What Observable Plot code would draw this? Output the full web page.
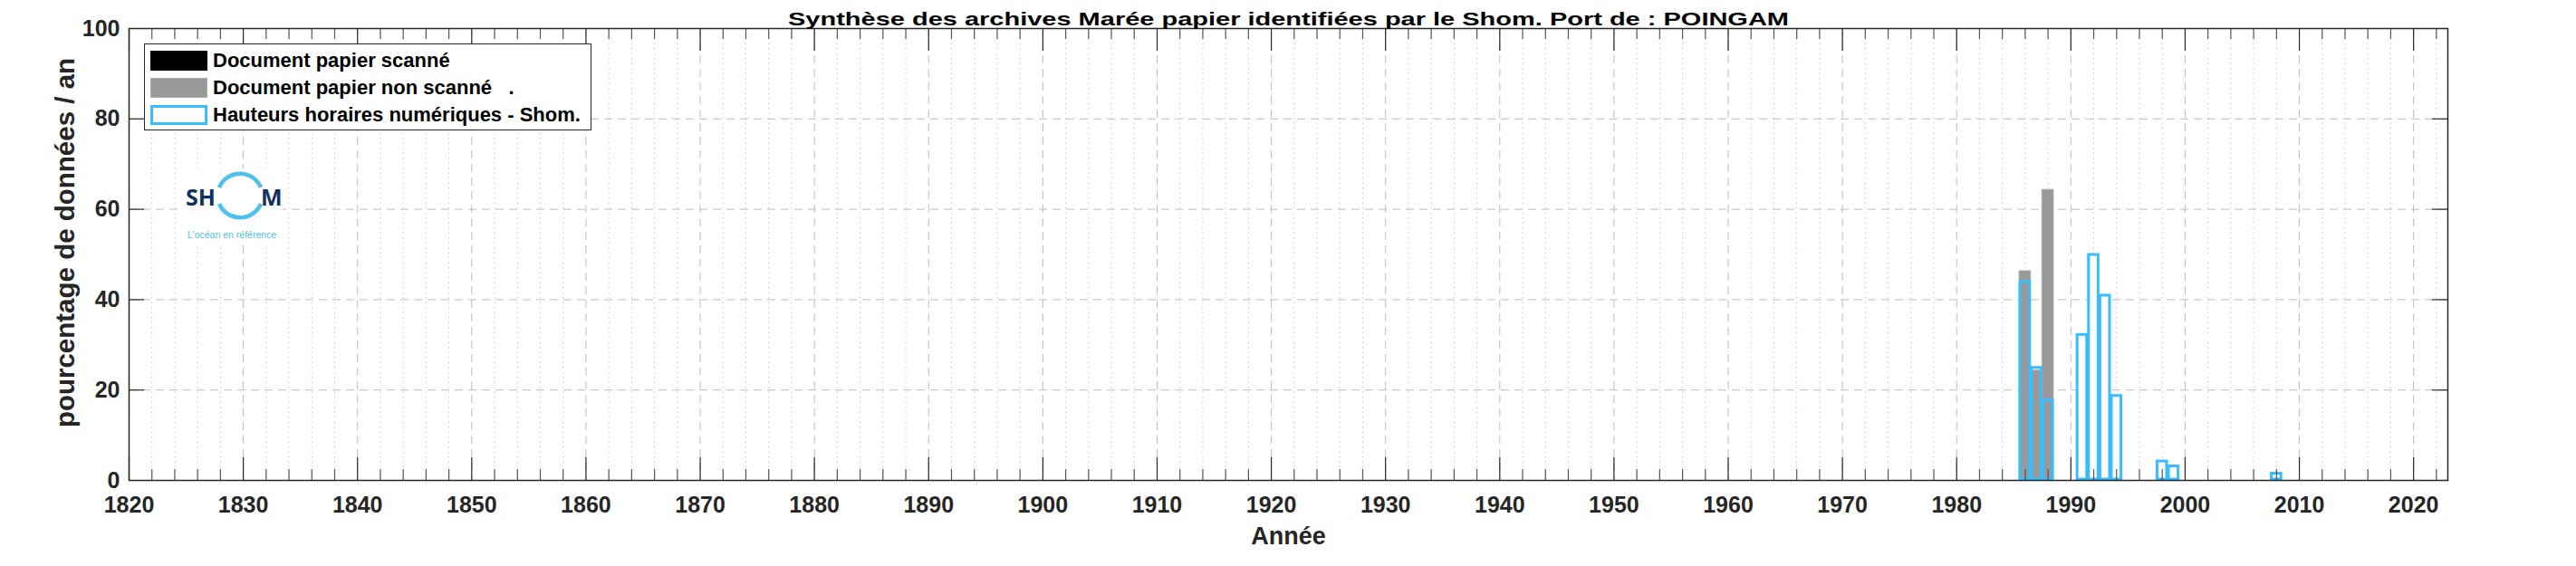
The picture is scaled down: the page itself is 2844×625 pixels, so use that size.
<!DOCTYPE html>
<html>
<head>
<meta charset="utf-8">
<script src="https://cdn.jsdelivr.net/npm/d3@7"></script>
<script src="https://cdn.jsdelivr.net/npm/@observablehq/plot@0.6"></script>
<style>
  html, body { margin: 0; padding: 0; background: #fff; }
  #wrap { position: relative; width: 2844px; height: 625px; font-family: "Liberation Sans", Arial, sans-serif; }
  #legend { position: absolute; left: 159px; top: 48px; width: 492px; height: 94px; border: 1.5px solid #262626; background: #fff; box-sizing: content-box; }
  .row { position: absolute; left: 0; height: 30px; display: flex; align-items: center; font-weight: bold; font-size: 22px; color: #000; white-space: pre; }
  .sw { width: 63px; height: 22px; margin-left: 6px; margin-right: 6px; box-sizing: border-box; }
  #logo { position: absolute; left: 0; top: 0; }
</style>
</head>
<body>
<div id="wrap"></div>
<script>
// ---- data ----
const title = "Synthèse des archives Marée papier identifiées par le Shom. Port de : POINGAM";
const xLabel = "Année";
const yLabel = "pourcentage de données / an";
const legendLabels = ["Document papier scanné", "Document papier non scanné   .", "Hauteurs horaires numériques - Shom."];

const scannedYears = [];
const scannedValues = [];
const unscannedYears = [1986, 1987, 1988];
const unscannedValues = [46.3, 24.3, 64.3];
const numericYears = [1986, 1987, 1988, 1991, 1992, 1993, 1994, 1998, 1999, 2008];
const numericValues = [44.1, 25.1, 17.9, 32.4, 50.1, 41.1, 18.9, 4.4, 3.3, 1.7];

const xTicks = [1820, 1830, 1840, 1850, 1860, 1870, 1880, 1890, 1900, 1910, 1920, 1930, 1940, 1950, 1960, 1970, 1980, 1990, 2000, 2010, 2020];
const xMinorTicks = d3.range(1822, 2023, 2).filter(v => v % 10 !== 0);
const yTicks = [0, 20, 40, 60, 80, 100];
const yGrid = [20, 40, 60, 80];

const scanned = scannedYears.map((y, i) => ({year: y, value: scannedValues[i]}));
const unscanned = unscannedYears.map((y, i) => ({year: y, value: unscannedValues[i]}));
const numeric = numericYears.map((y, i) => ({year: y, value: numericValues[i]}));

const W = 2844, H = 625;
const mL = 142, mR = 142, mT = 31, mB = 95;
const innerW = W - mL - mR, innerH = H - mT - mB;
const ink = "#262626";
const blue = "#38BDFF";
const gray = "#999999";

const chart = Plot.plot({
  width: W, height: H,
  marginLeft: mL, marginRight: mR, marginTop: mT, marginBottom: mB,
  style: {fontFamily: "'Liberation Sans', Arial, sans-serif", fontWeight: "bold", fontSize: "25px", color: ink, background: "#fff"},
  x: {domain: [1820, 2023]},
  y: {domain: [0, 100]},
  marks: [
    // grids
    Plot.ruleX(xMinorTicks, {stroke: "#c8c8c8", strokeDasharray: "1.5,4"}),
    Plot.ruleX(xTicks, {stroke: "#bdbdbd", strokeDasharray: "9,6"}),
    Plot.ruleY(yGrid, {stroke: "#bdbdbd", strokeDasharray: "9,6"}),
    // bars
    Plot.rectY(numeric, {x1: d => d.year - 0.5, x2: d => d.year + 0.5, y: "value", fill: "#fff", inset: 1}),
    Plot.rectY(scanned, {x1: d => d.year - 0.5, x2: d => d.year + 0.5, y: "value", fill: "#000"}),
    Plot.rectY(unscanned, {x1: d => d.year - 0.5, x2: d => d.year + 0.5, y: "value", fill: gray, stroke: "#ababab", strokeWidth: 1}),
    Plot.rectY(numeric, {x1: d => d.year - 0.5, x2: d => d.year + 0.5, y: "value", fill: "none", stroke: blue, strokeWidth: 3, inset: 1}),
    // ticks (inward)
    Plot.ruleX(xTicks, {stroke: ink, strokeWidth: 1.2, insetTop: innerH - 25}),
    Plot.ruleX(xMinorTicks, {stroke: "#555", strokeWidth: 1.2, insetTop: innerH - 12}),
    Plot.ruleX(xTicks, {stroke: ink, strokeWidth: 1.2, insetBottom: innerH - 25}),
    Plot.ruleX(xMinorTicks, {stroke: "#555", strokeWidth: 1.2, insetBottom: innerH - 12}),
    Plot.ruleY(yGrid, {stroke: ink, strokeWidth: 1.2, insetRight: innerW - 17}),
    Plot.ruleY(yGrid, {stroke: ink, strokeWidth: 1.2, insetLeft: innerW - 17}),
    Plot.frame({stroke: ink, strokeWidth: 1.5}),
    // axes
    Plot.axisX(xTicks, {tickSize: 0, tickPadding: 18, tickFormat: d => `${d}`, fill: ink, label: null}),
    Plot.axisY(yTicks, {tickSize: 0, tickPadding: 10, tickFormat: d => `${d}`, fill: ink, label: null}),
    // labels
    Plot.text([xLabel], {frameAnchor: "bottom", dy: 70, fill: ink, fontSize: 27, fontWeight: "bold"}),
    Plot.text([yLabel], {frameAnchor: "left", dx: -70, dy: -13, rotate: -90, textAnchor: "middle", fill: ink, fontSize: 29.5, fontWeight: "bold"}),
    Plot.text([title], {frameAnchor: "top", dy: -18, fill: "#000", fontSize: 21, fontWeight: "bold"})
  ]
});

// stretch the title to the reference's width
d3.select(chart).selectAll("text")
  .filter(function () { return this.textContent === title; })
  .attr("textLength", 1105)
  .attr("lengthAdjust", "spacingAndGlyphs");

const wrap = document.getElementById("wrap");
wrap.appendChild(chart);

// SHOM logo (decoration)
const logo = document.createElementNS("http://www.w3.org/2000/svg", "svg");
logo.setAttribute("id", "logo");
logo.setAttribute("width", W);
logo.setAttribute("height", H);
logo.innerHTML = `
  <rect x="200" y="186" width="112" height="84" fill="#fff"/>
  <path d="M 242 207 A 25 25 0 0 1 288 207" fill="none" stroke="#4fc0ec" stroke-width="4.5"/>
  <path d="M 242 225 A 25 25 0 0 0 288 225" fill="none" stroke="#4fc0ec" stroke-width="4.5"/>
  <text x="205" y="227" font-family="'Open Sans', 'Liberation Sans', sans-serif" font-weight="bold" font-size="25" fill="#12305f">SH</text>
  <text x="288" y="227" font-family="'Open Sans', 'Liberation Sans', sans-serif" font-weight="bold" font-size="25" fill="#12305f">M</text>
  <text x="256" y="263" text-anchor="middle" font-family="'Liberation Sans Narrow', 'Liberation Sans', sans-serif" font-size="10.5" fill="#4fc0ec">L'océan en référence</text>
`;
wrap.appendChild(logo);

// legend
const legend = document.createElement("div");
legend.id = "legend";
const swatches = [
  {bg: "#000", border: "none"},
  {bg: gray, border: "1px solid #ababab"},
  {bg: "#fff", border: `3px solid ${blue}`}
];
legendLabels.forEach((lab, i) => {
  const row = document.createElement("div");
  row.className = "row";
  row.style.top = (3 + i * 30) + "px";
  const sw = document.createElement("div");
  sw.className = "sw";
  sw.style.background = swatches[i].bg;
  sw.style.border = swatches[i].border;
  row.appendChild(sw);
  const t = document.createElement("span");
  t.textContent = lab;
  row.appendChild(t);
  legend.appendChild(row);
});
wrap.appendChild(legend);
</script>
</body>
</html>
